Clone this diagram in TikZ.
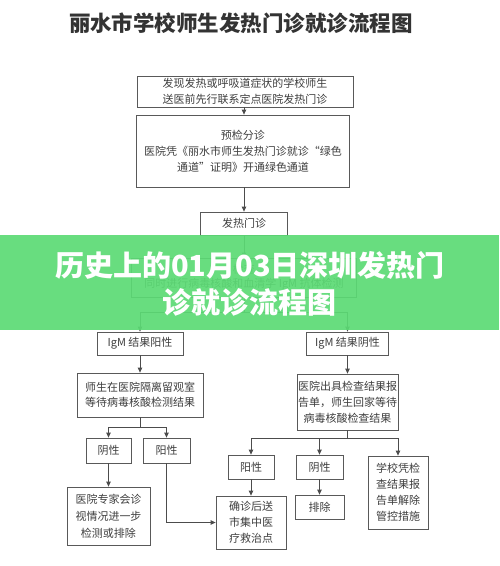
\documentclass[tikz,border=0pt]{standalone}
\usepackage{fontspec}
\setmainfont{Noto Sans CJK SC}
\usepackage{xcolor}
\usepackage{tikz}
\usetikzlibrary{arrows.meta, calc}
\definecolor{banner}{RGB}{92,219,117}
\definecolor{ink}{RGB}{62,62,62}

\begin{document}
\begin{tikzpicture}[x=1pt,y=-1pt]
\tikzset{
  bx/.style={rectangle,draw=black!65,line width=0.8pt,fill=white,text=ink,align=center,inner sep=0pt,font=\fontsize{11}{16}\selectfont},
  ar/.style={-{Triangle[length=5pt,width=4.5pt]},line width=0.8pt,draw=black!70},
  hd/.style={font=\bfseries\fontsize{29}{37}\selectfont,text=white,align=center}
}
\useasboundingbox[fill=white] (0,0) rectangle (499,566);
\node[font=\bfseries\fontsize{21.5}{22}\selectfont,text=black!80] (title) at (241,23) {丽水市学校师生发热门诊就诊流程图};
% upper chain
\node[bx,minimum width=216,minimum height=31] (find) at (245,91.5) {发现发热或呼吸道症状的学校师生\\送医前先行联系定点医院发热门诊};
\node[bx,minimum width=213,minimum height=72] (triage) at (243,151) {预检分诊\\医院凭《丽水市师生发热门诊就诊“绿色\\通道”证明》开通绿色通道};
\node[bx,minimum width=87,minimum height=23] (fever) at (244,223.5) {发热门诊};
\node[bx,minimum width=225,minimum height=39,font=\fontsize{11}{14}\selectfont] (check) at (244,277.5) {检查\\同时进行病毒核酸和血清学 IgM 抗体检测};
\draw[ar] (find.south -| fever.north) -- (triage.north -| fever.north);
\draw[ar] (triage.south -| fever.north) -- (fever);
\draw[ar] (fever) -- (check);
% IgM branches
\node[bx,minimum width=86,minimum height=23] (igmpos) at (140,343.5) {IgM 结果阳性};
\node[bx,minimum width=82,minimum height=23] (igmneg) at (347.5,343.5) {IgM 结果阴性};
\draw[ar] (check.south) -- ++(0,15) -| (igmpos.north);
\draw[ar] (check.south) -- ++(0,15) -| (igmneg.north);
\node[bx,minimum width=126,minimum height=44,font=\fontsize{11}{15}\selectfont] (isolate) at (140,395) {师生在医院隔离留观室\\等待病毒核酸检测结果};
\node[bx,minimum width=101,minimum height=56] (report) at (347.5,402) {医院出具检查结果报\\告单，师生回家等待\\病毒核酸检查结果};
\draw[ar] (igmpos) -- (isolate);
\draw[ar] (igmneg) -- (report);
% left results
\node[bx,minimum width=45,minimum height=25] (negl) at (108.5,450.5) {阴性};
\node[bx,minimum width=47,minimum height=25] (posl) at (166.5,450.5) {阳性};
\draw[ar] (isolate.south) -- ++(0,10) -| (negl.north);
\draw[ar] (isolate.south) -- ++(0,10) -| (posl.north);
\node[bx,minimum width=83,minimum height=58,font=\fontsize{11}{17}\selectfont] (expert) at (108.5,516) {医院专家会诊\\视情况进一步\\检测或排除};
\draw[ar] (negl) -- (expert);
% right results
\node[bx,minimum width=46,minimum height=24] (posr) at (251,467) {阳性};
\node[bx,minimum width=47,minimum height=24] (negr) at (319.5,467) {阴性};
\node[bx,minimum width=60,minimum height=73] (school) at (398,492.5) {学校凭检\\查结果报\\告单解除\\管控措施};
\draw[ar] (report.south) -- ++(0,8) -| (posr.north);
\draw[ar] (report.south) -- ++(0,8) -| (negr.north);
\draw[ar] (report.south) -- ++(0,8) -| (school.north);
\node[bx,minimum width=70,minimum height=53] (confirm) at (251,522.5) {确诊后送\\市集中医\\疗救治点};
\node[bx,minimum width=49,minimum height=24] (exclude) at (319.5,507) {排除};
\draw[ar] (posr) -- (confirm);
\draw[ar] (negr) -- (exclude);
\draw[ar] (posl.south) |- (confirm.west);
% banner over the middle
\fill[banner,opacity=0.92] (0,235) rectangle (499,330);
\node[hd] (headline) at (250,283.5) {历史上的01月03日深圳发热门\\诊就诊流程图};
\end{tikzpicture}
\end{document}
